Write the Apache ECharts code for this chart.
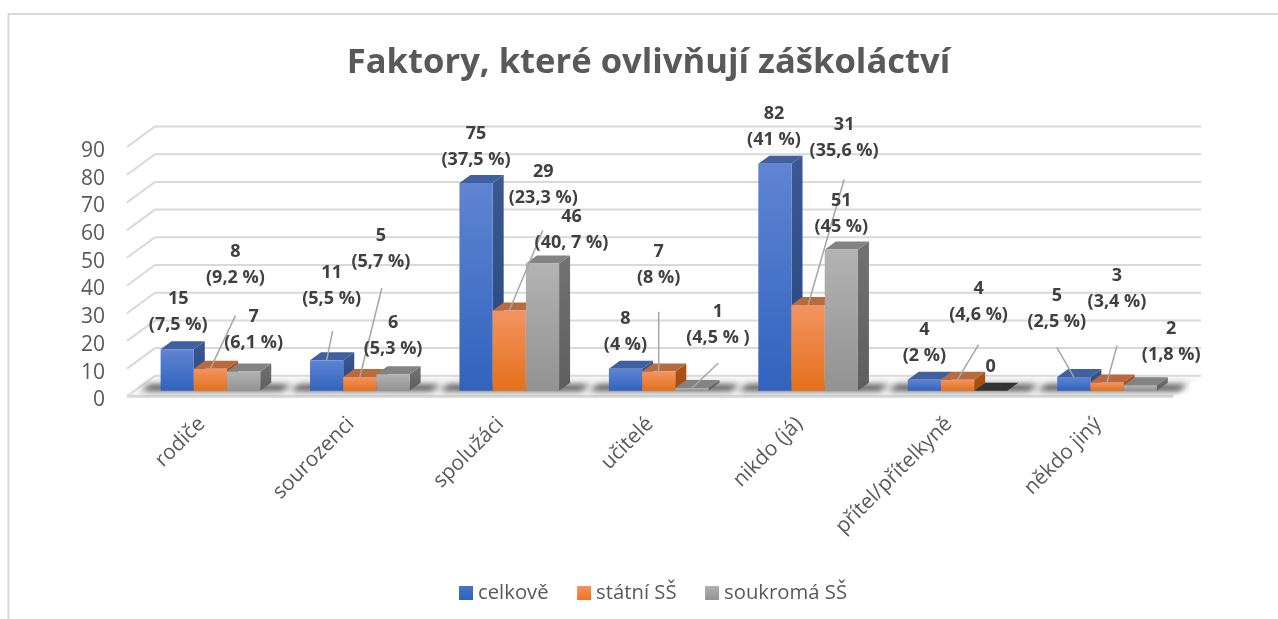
<!DOCTYPE html>
<html><head><meta charset="utf-8">
<style>html,body{margin:0;padding:0;background:#fff}#c{width:1278px;height:619px}</style>
<script src="https://cdn.jsdelivr.net/npm/echarts@6/dist/echarts.min.js"></script>
</head><body><div id="c"></div>
<script>
const titleText = 'Faktory, které ovlivňují záškoláctví';
const categories = ['rodiče','sourozenci','spolužáci','učitelé','nikdo (já)','přítel/přítelkyně','někdo jiný'];
const seriesNames = ['celkově','státní SŠ','soukromá SŠ'];
const celkove = [15,11,75,8,82,4,5];
const statni = [8,5,29,7,31,4,3];
const soukroma = [7,6,46,1,51,0,2];
const celkovePct = ['(7,5 %)','(5,5 %)','(37,5 %)','(4 %)','(41 %)','(2 %)','(2,5 %)'];
const statniPct = ['(9,2 %)','(5,7 %)','(23,3 %)','(8 %)','(35,6 %)','(4,6 %)','(3,4 %)'];
const soukromaPct = ['(6,1 %)','(5,3 %)','(40, 7 %)','(4,5 % )','(45 %)','','(1,8 %)'];
const valueTicks = [0,10,20,30,40,50,60,70,80,90];

// styling and layout
const FONT = '"Open Sans"';
const DEPTH = {x:28, y:20.5};       // wall depth
const BAR_DEPTH = {x:11, y:8};      // bar depth
const BAR_PLANE = {x:8.7, y:-5.5};  // bars stand a little behind the front edge
const BAR_SHARE = 1/4.5;
const grad = (a,b)=>new echarts.graphic.LinearGradient(0,0,0,1,[{offset:0,color:a},{offset:1,color:b}]);
const looks = [
 {front:['#5f84d2','#3163be'], side:['#3c5893','#25467f'], top:'#40609f'},
 {front:['#f29462','#e4701a'], side:['#ad5415','#a24c0e'], top:'#b96a3e'},
 {front:['#b3b3b3','#929292'], side:['#727272','#5e5e5e'], top:'#838383'}
];
const legendLooks = [['#4472c4','#2f62be'],['#f4935a','#ee7420'],['#b0b0b0','#949494']];
// label centre and leader end relative to the top-centre of each bar
const labelShift = [
 [[1,-37],[5,-74],[0,-36],[0,-36.5],[-1,-37],[0,-37],[-17,-68]],
 [[25,-104],[21,-128],[34,-126],[0,-107],[36,-167],[21,-78],[10,-94]],
 [[10,-42],[0,-38],[29,-34],[26,-63],[0,-36],[0,-24],[31,-43]]
];
const leaderEnd = [
 [null,[6,-29.5],null,null,null,null,[-17,-29.5]],
 [[25,-53],[22,-89],[33.5,-80],[0,-59.6],[36,-125.5],[21,-35],[10,-37]],
 [null,null,null,[26.5,-25],null,null,null]
];
const values = [celkove,statni,soukroma];
const pcts = [celkovePct,statniPct,soukromaPct];

function barBox(api,s){
  const i=api.value(0), v=api.value(1);
  const t=api.coord([i,v]), b=api.coord([i,0]);
  const w=api.size([1,0])[0]*BAR_SHARE;
  const x0=t[0]+BAR_PLANE.x+(s-1.5)*w;
  return {i,v,x0,x1:x0+w,yT:t[1]+BAR_PLANE.y,yB:b[1]+BAR_PLANE.y,cx:x0+w/2};
}
function poly(points,fill,extra){
  return Object.assign({type:'polygon',shape:{points},style:{fill}},extra||{});
}
function renderBar(s){
  return (params,api)=>{
    const B=barBox(api,s), L=looks[s], d=BAR_DEPTH;
    if(B.v===0){
      return poly([[B.x0,B.yB],[B.x0+d.x,B.yB-d.y],[B.x1+d.x,B.yB-d.y],[B.x1,B.yB]],'#333333');
    }
    return {type:'group',children:[
      poly([[B.x1,B.yB],[B.x1+d.x,B.yB-d.y],[B.x1+d.x,B.yT-d.y],[B.x1,B.yT]],grad(L.side[0],L.side[1])),
      poly([[B.x0,B.yT],[B.x0+d.x,B.yT-d.y],[B.x1+d.x,B.yT-d.y],[B.x1,B.yT]],L.top),
      poly([[B.x0,B.yB],[B.x1,B.yB],[B.x1,B.yT],[B.x0,B.yT]],grad(L.front[0],L.front[1]))
    ]};
  };
}
function renderLabel(s){
  return (params,api)=>{
    const B=barBox(api,s), i=B.i, sh=labelShift[s][i], le=leaderEnd[s][i], kids=[];
    if(le){kids.push({type:'line',shape:{x1:B.cx,y1:B.yT,x2:B.cx+le[0],y2:B.yT+le[1]},
      style:{stroke:'#a6a6a6',lineWidth:1.5}});}
    const p=pcts[s][i];
    kids.push({type:'text',style:{x:B.cx+sh[0],y:B.yT+sh[1],text:p?(B.v+'\n'+p):String(B.v),
      align:'center',verticalAlign:'middle',font:'bold 18px '+FONT,lineHeight:26,fill:'#404040'}});
    return {type:'group',children:kids};
  };
}
function renderWall(params,api){
  const v=api.value(1), half=api.size([1,0])[0]/2;
  const lft=api.coord([0,v])[0]-half, rgt=api.coord([categories.length-1,v])[0]+half, y=api.coord([0,v])[1];
  const st={stroke:'#d9d9d9',lineWidth:2};
  const kids=[{type:'polyline',shape:{points:[[lft,y],[lft+DEPTH.x,y-DEPTH.y],[rgt+DEPTH.x,y-DEPTH.y]]},style:Object.assign({fill:'none'},st)}];
  if(v===0){
    kids.unshift(poly([[lft,y],[lft+DEPTH.x,y-DEPTH.y],[rgt+DEPTH.x,y-DEPTH.y],[rgt,y]],'#f7f7f7'));
    kids.push({type:'line',shape:{x1:lft,y1:y,x2:rgt,y2:y},style:{stroke:'#d9d9d9',lineWidth:3}});
  }
  return {type:'group',children:kids};
}
// soft floor shadow: the shape sits off-canvas so only its blurred shadow shows
const SHADOW_SHIFT = 3000;
function renderShadow(params,api){
  const i=api.value(0), c=api.coord([i,0]), w=api.size([1,0])[0]*BAR_SHARE*1.5;
  const x0=c[0]+BAR_PLANE.x-w-20-SHADOW_SHIFT, x1=c[0]+BAR_PLANE.x+w+22-SHADOW_SHIFT, yB=c[1]+BAR_PLANE.y, yT=yB-6;
  return poly([[x0,yB],[x1,yB],[x1+9,yT],[x0+9,yT]],'#000',
    {style:{fill:'#000',shadowBlur:6,shadowOffsetX:SHADOW_SHIFT,shadowColor:'rgba(30,30,30,0.85)'}});
}

const chart = echarts.init(document.getElementById('c'),null,{renderer:'canvas'});
const series = [
  {type:'custom',name:'wall',renderItem:renderWall,silent:true,data:valueTicks.map(t=>[0,t]),encode:{x:0,y:1}},
  {type:'custom',name:'shadow',renderItem:renderShadow,silent:true,data:categories.map((c,i)=>[i,0]),encode:{x:0,y:1}}
];
seriesNames.forEach((n,s)=>series.push({type:'custom',name:n,renderItem:renderBar(s),
  itemStyle:{color:grad(legendLooks[s][0],legendLooks[s][1])},
  data:values[s].map((v,i)=>[i,v]),encode:{x:0,y:1}}));
seriesNames.forEach((n,s)=>series.push({type:'custom',name:n+' popisky',renderItem:renderLabel(s),silent:true,z:5,
  data:values[s].map((v,i)=>[i,v]),encode:{x:0,y:1}}));

chart.setOption({
  animation:false,
  backgroundColor:'#fff',
  title:{text:titleText,left:643.5,top:41,textAlign:'center',
    textStyle:{fontFamily:FONT,fontWeight:'bold',fontSize:34.6,color:'#595959'}},
  legend:{data:seriesNames,left:454,top:578,icon:'rect',itemWidth:14,itemHeight:14,itemGap:28.5,
    textStyle:{fontFamily:FONT,fontSize:20.3,color:'#595959'}},
  grid:{left:127,width:1046,top:147,height:249.3},
  xAxis:{type:'category',data:categories,axisLine:{show:false},axisTick:{show:false},splitLine:{show:false},
    axisLabel:{rotate:45,interval:0,margin:24.5,fontFamily:FONT,fontSize:20.8,color:'#595959'}},
  yAxis:{type:'value',min:0,max:90,interval:10,axisLine:{show:false},axisTick:{show:false},splitLine:{show:false},
    axisLabel:{margin:22,verticalAlign:'top',lineHeight:8,fontFamily:FONT,fontSize:21,color:'#595959'}},
  graphic:[{type:'polyline',silent:true,shape:{points:[[8.5,619],[8.5,14],[1278,14]]},style:{stroke:'#d9d9d9',lineWidth:2,fill:'none'}}],
  series
});
</script></body></html>
